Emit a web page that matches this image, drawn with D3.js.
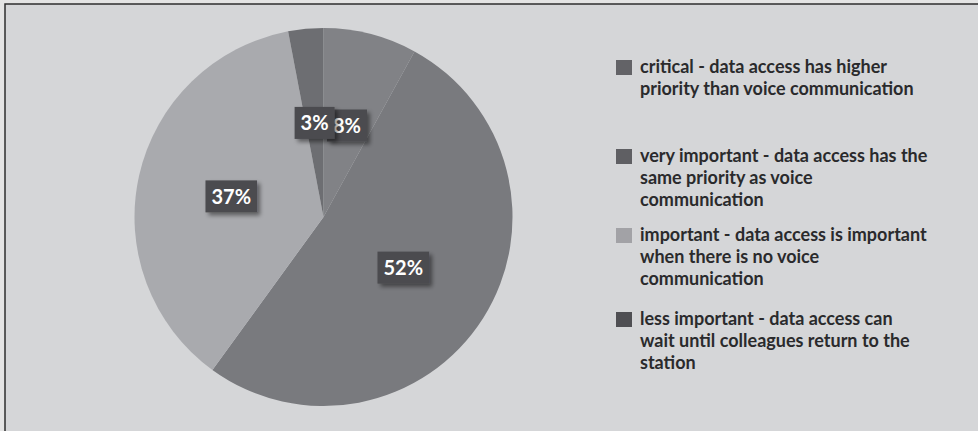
<!DOCTYPE html>
<html>
<head>
<meta charset="utf-8">
<script src="https://cdn.jsdelivr.net/npm/d3@7/dist/d3.min.js"></script>
<style>
  html, body { margin: 0; padding: 0; background: #e6e6e6; }
  svg { display: block; }
</style>
</head>
<body>
<svg id="chart" width="978" height="431"></svg>
<script>
// ---- data ----
const categories = [
  "critical - data access has higher priority than voice communication",
  "very important - data access has the same priority as voice communication",
  "important - data access is important when there is no voice communication",
  "less important - data access can wait until colleagues return to the station"
];
const legendLines = [
  ["critical - data access has higher", "priority than voice communication"],
  ["very important - data access has the", "same priority as voice", "communication"],
  ["important - data access is important", "when there is no voice", "communication"],
  ["less important - data access can", "wait until colleagues return to the", "station"]
];
const values = [8, 52, 37, 3];
const valueLabels = ["8%", "52%", "37%", "3%"];
const sliceColors = ["#818286", "#797a7e", "#a9aaae", "#6d6e72"];
const legendColors = ["#636367", "#5f5f63", "#a2a2a6", "#4f4f53"];

// ---- layout ----
const W = 978, H = 431;
const cx = 323.5, cy = 217, R = 189;
const legendX = 616, legendTextX = 640, lineH = 22;
const legendBaselines = [73, 162, 241, 325];

const svg = d3.select("#chart");
const defs = svg.append("defs");
const f = defs.append("filter").attr("id", "sh").attr("x", "-30%").attr("y", "-30%").attr("width", "170%").attr("height", "170%");
f.append("feDropShadow").attr("dx", 3).attr("dy", 3).attr("stdDeviation", 2).attr("flood-color", "#000").attr("flood-opacity", 0.45);

// background + frame
svg.append("rect").attr("x", 0).attr("y", 0).attr("width", W).attr("height", H).attr("fill", "#e4e4e4");
svg.append("rect").attr("x", 5).attr("y", 4).attr("width", W + 10).attr("height", H + 10)
  .attr("fill", "#d5d6d8").attr("stroke", "#2e2e2e").attr("stroke-width", 1.5);

const pie = d3.pie().sort(null).value(d => d).startAngle(0).endAngle(2 * Math.PI);
const arcs = pie(values);
const arc = d3.arc().innerRadius(0).outerRadius(R);

const g = svg.append("g").attr("transform", `translate(${cx},${cy})`);
g.selectAll("path.slice").data(arcs).enter().append("path")
  .attr("class", "slice")
  .attr("d", arc)
  .attr("fill", (d, i) => sliceColors[i]);

// labels
const lbl = g.selectAll("g.lbl").data(arcs).enter().append("g")
  .attr("class", "lbl")
  .attr("transform", d => `translate(${arc.centroid(d)})`);
lbl.each(function(d, i) {
  const gg = d3.select(this);
  const rect = gg.append("rect").attr("fill", "#4b4b4f").attr("filter", "url(#sh)");
  const t = gg.append("text")
    .attr("text-anchor", "middle")
    .attr("dy", "0.36em")
    .attr("fill", "#ffffff")
    .attr("font-family", "Lato, 'Open Sans', sans-serif")
    .attr("font-weight", "bold")
    .attr("font-size", 20)
    .text(valueLabels[i]);
  const w = t.node().getComputedTextLength();
  const bw = w + 12, bh = 32;
  rect.attr("x", -bw / 2).attr("y", -bh / 2).attr("width", bw).attr("height", bh);
});

// legend
const leg = svg.append("g");
legendLines.forEach((lines, i) => {
  const y0 = legendBaselines[i];
  leg.append("rect").attr("x", legendX).attr("y", y0 - 13).attr("width", 16).attr("height", 15)
    .attr("fill", legendColors[i]);
  const t = leg.append("text")
    .attr("x", legendTextX).attr("y", y0)
    .attr("fill", "#2a2a2c")
    .attr("font-family", "Lato, 'Open Sans', sans-serif")
    .attr("font-weight", "bold")
    .attr("font-size", 18);
  lines.forEach((ln, j) => {
    t.append("tspan").attr("x", legendTextX).attr("y", y0 + j * lineH).text(ln);
  });
});
</script>
</body>
</html>
